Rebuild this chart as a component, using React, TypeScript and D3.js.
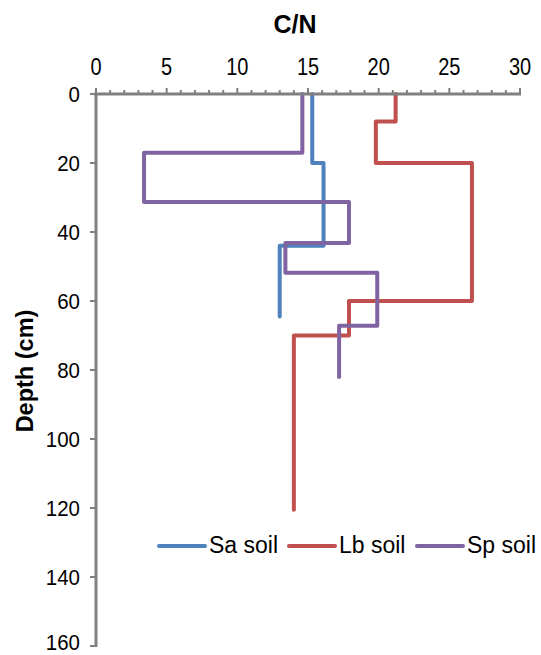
import React from "react";
import * as d3 from "d3";

const xTicks = [0, 5, 10, 15, 20, 25, 30];
const yTicks = [0, 20, 40, 60, 80, 100, 120, 140, 160];

const saCN = [15.3, 15.3, 16.1, 16.1, 13.0, 13.0];
const saDepth = [0, 20, 20, 44, 44, 64.5];

const lbCN = [21.2, 21.2, 19.8, 19.8, 26.6, 26.6, 17.9, 17.9, 14.0, 14.0];
const lbDepth = [0, 8, 8, 20, 20, 60, 60, 70, 70, 120.5];

const spCN = [14.6, 14.6, 3.4, 3.4, 17.9, 17.9, 13.4, 13.4, 19.9, 19.9, 17.2, 17.2];
const spDepth = [0, 17, 17, 31.3, 31.3, 43.2, 43.2, 51.8, 51.8, 67.2, 67.2, 82];

const seriesNames = ["Sa soil", "Lb soil", "Sp soil"];
const seriesColors = ["#4F81BD", "#C0504D", "#8064A2"];

export default function App() {
  const W = 541, H = 655;
  const x = d3.scaleLinear().domain([0, 30]).range([96, 520]);
  const y = d3.scaleLinear().domain([0, 160]).range([94, 646]);
  const line = d3.line<[number, number]>().x(d => x(d[0])).y(d => y(d[1]));
  const series = [
    d3.zip(saCN, saDepth) as [number, number][],
    d3.zip(lbCN, lbDepth) as [number, number][],
    d3.zip(spCN, spDepth) as [number, number][],
  ];
  const minor = d3.range(0, 31, 1);
  const axisColor = "#808080";
  const font = "Liberation Sans, Arial, sans-serif";
  const legendX = [159, 289, 417];
  return (
    <svg width={W} height={H} style={{ position: "absolute", left: 0, top: 0 }} fontFamily={font}>
      <rect width={W} height={H} fill="#fff" />
      <text x={295} y={33} textAnchor="middle" fontWeight="bold" fontSize={25} fill="#000">C/N</text>
      {xTicks.map(t => (
        <text key={t} transform={`translate(${x(t)},75) scale(1,1.18)`} textAnchor="middle" fontSize={20} fill="#000">{t}</text>
      ))}
      {yTicks.map(t => (
        <text key={t} transform={`translate(80,${Math.min(y(t) + 8, 650)}) scale(1,1.12)`} textAnchor="end" fontSize={20.5} fill="#000">{t}</text>
      ))}
      <text transform={`translate(33,371) rotate(-90)`} textAnchor="middle" fontWeight="bold" fontSize={23.5} fill="#000">Depth (cm)</text>
      {series.map((s, i) => (
        <path key={i} d={line(s) || ""} fill="none" stroke={seriesColors[i]} strokeWidth={4} strokeLinejoin="round" strokeLinecap="round" />
      ))}
      <line x1={x(0) - 2} x2={x(30) + 1} y1={y(0)} y2={y(0)} stroke={axisColor} strokeWidth={3} />
      {minor.map(t => (
        <line key={t} x1={x(t)} x2={x(t)} y1={y(0)} y2={y(0) - (t % 5 === 0 ? 6 : 4)} stroke={axisColor} strokeWidth={2} />
      ))}
      <line x1={x(0)} x2={x(0)} y1={y(0) - 1} y2={y(160) + 1} stroke={axisColor} strokeWidth={3} />
      {yTicks.map(t => (
        <line key={t} x1={x(0) - 6} x2={x(0)} y1={y(t)} y2={y(t)} stroke={axisColor} strokeWidth={2} />
      ))}
      {seriesNames.map((n, i) => (
        <g key={n}>
          <line x1={legendX[i]} x2={legendX[i] + 46} y1={546} y2={546} stroke={seriesColors[i]} strokeWidth={4} strokeLinecap="round" />
          <text x={legendX[i] + 50} y={553} fontSize={23} fill="#000">{n}</text>
        </g>
      ))}
    </svg>
  );
}
